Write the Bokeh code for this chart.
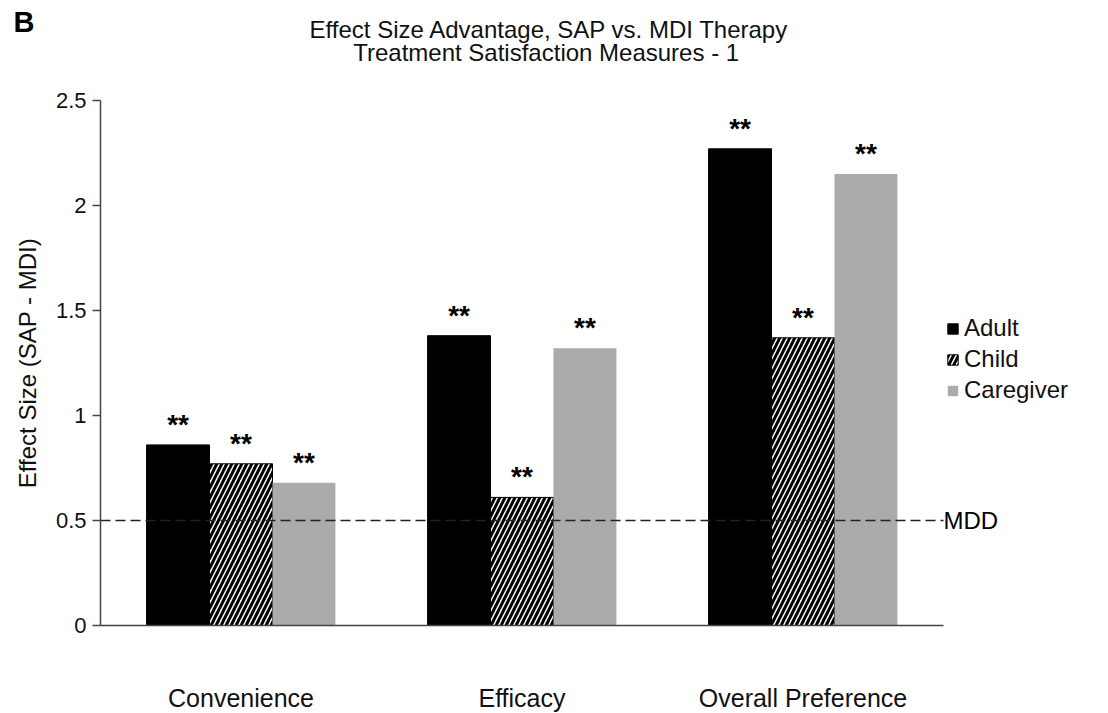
from bokeh.plotting import figure
from bokeh.models import Legend, LegendItem, ColumnDataSource, FixedTicker, Range1d
from bokeh.transform import dodge
from bokeh.core.properties import value
from bokeh.embed import file_html
from bokeh.resources import INLINE

categories = ["Convenience", "Efficacy", "Overall Preference"]
series = ["Adult", "Child", "Caregiver"]
adult = [0.86, 1.38, 2.27]
child = [0.77, 0.61, 1.37]
caregiver = [0.68, 1.32, 2.15]
stars = ["**", "**", "**"]
yticks = [0, 0.5, 1, 1.5, 2, 2.5]
ymax = 2.5
mdd = 0.5
title1 = "Effect Size Advantage, SAP vs. MDI Therapy"
title2 = "Treatment  Satisfaction Measures - 1"
panel_letter = "B"

FONT = "Liberation Sans"
BW = 0.224
W, H = 1108, 713
X0, Y0 = 100, 625          # pixel of data origin
SX, SY = 281.0, 210.0      # pixels per data unit

def px_x(px):
    return (px - X0) / SX

def px_y(py):
    return (Y0 - py) / SY

xpos = [i + 0.5 for i in range(len(categories))]
src = ColumnDataSource(dict(x=xpos, adult=adult, child=child,
                            caregiver=caregiver, stars=stars))

p = figure(x_range=Range1d(px_x(0), px_x(W)), y_range=Range1d(px_y(H), px_y(0)),
           width=W, height=H, output_backend="svg", toolbar_location=None,
           min_border=0, min_border_left=0, min_border_right=0,
           min_border_top=0, min_border_bottom=0)
p.grid.visible = False
p.outline_line_color = None
p.background_fill_color = "white"
p.border_fill_color = "white"

r_adult = p.vbar(x=dodge("x", -BW), top="adult", width=BW,
                 source=src, fill_color="black", line_color="black")
r_child = p.vbar(x=dodge("x", 0), top="child", width=BW,
                 source=src, fill_color="white", line_color="black", line_width=1,
                 hatch_pattern="/", hatch_color="black", hatch_scale=10, hatch_weight=3)
r_care = p.vbar(x=dodge("x", BW), top="caregiver", width=BW,
                source=src, fill_color="#ABABAB", line_color=None)

for off, col in [(-BW, "adult"), (0, "child"), (BW, "caregiver")]:
    p.text(x=dodge("x", off), y=col, text="stars", source=src,
           text_align="center", text_baseline="bottom", y_offset=-5,
           text_font=value(FONT), text_font_style="bold", text_font_size="28px",
           text_color="black")

# MDD reference line
p.line(x=[0, len(categories)], y=[mdd, mdd], line_dash="10 5",
       line_color="#222222", line_width=1.5)
p.text(x=[len(categories)], y=[mdd], text=["MDD"], text_baseline="middle",
       text_align="left", text_font=value(FONT), text_font_size="24px",
       text_color="black")

# titles and panel letter
p.text(x=[px_x(549), px_x(549)], y=[px_y(29), px_y(52)], text=[title1, title2],
       text_align="center", text_baseline="alphabetic", text_font=value(FONT),
       text_font_size="24px", text_color="#111111")
p.text(x=[px_x(13)], y=[px_y(21)], text=[panel_letter], text_align="left",
       text_baseline="alphabetic", text_font=value(FONT), text_font_style="bold",
       text_font_size="29px", text_color="black")

# y axis
ya = p.yaxis[0]
ya.fixed_location = 0
ya.bounds = (0, ymax)
ya.ticker = FixedTicker(ticks=yticks)
ya.major_label_overrides = {0: "0", 0.5: "0.5", 1: "1", 1.5: "1.5", 2: "2", 2.5: "2.5"}
ya.axis_label = "Effect Size (SAP - MDI)"
ya.axis_label_text_font = FONT
ya.axis_label_text_font_style = "normal"
ya.axis_label_text_font_size = "24px"
ya.axis_label_text_color = "#111111"
ya.axis_label_standoff = 12
ya.major_label_text_font = FONT
ya.major_label_text_font_size = "22px"
ya.major_label_text_color = "#111111"
ya.major_label_standoff = 6
ya.major_tick_out = 8
ya.major_tick_in = 0
ya.minor_tick_line_color = None
ya.axis_line_color = "#444444"
ya.axis_line_width = 1.5
ya.major_tick_line_color = "#444444"
ya.major_tick_line_width = 1.5

# x axis
xa = p.xaxis[0]
xa.fixed_location = 0
xa.bounds = (0, len(categories))
xa.ticker = FixedTicker(ticks=xpos)
xa.major_label_overrides = {x: c for x, c in zip(xpos, categories)}
xa.major_tick_line_color = None
xa.minor_tick_line_color = None
xa.major_label_standoff = 52
xa.major_label_text_font = FONT
xa.major_label_text_font_size = "25px"
xa.major_label_text_color = "#111111"
xa.axis_line_color = "#444444"
xa.axis_line_width = 1.5

legend = Legend(items=[LegendItem(label="Adult", renderers=[r_adult]),
                       LegendItem(label="Child", renderers=[r_child]),
                       LegendItem(label="Caregiver", renderers=[r_care])],
                location=(946, 309), margin=0, padding=0, spacing=3,
                glyph_width=13, glyph_height=13, label_standoff=5,
                label_text_font=FONT, label_text_font_size="24px",
                label_text_color="#111111",
                border_line_color=None, background_fill_alpha=0)
p.add_layout(legend, "center")

open("out.html", "w").write(file_html(p, INLINE))
